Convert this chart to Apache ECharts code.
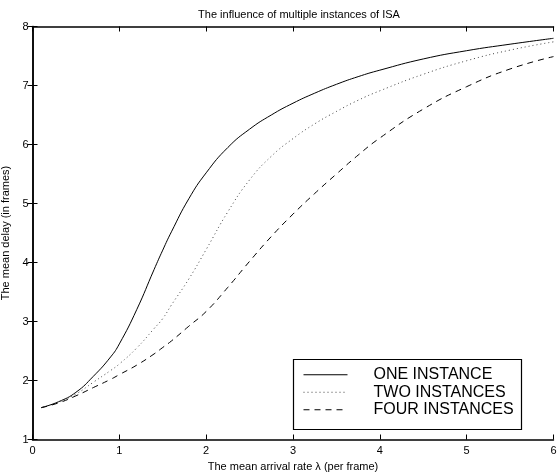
<!DOCTYPE html>
<html>
<head>
<meta charset="utf-8">
<script src="https://cdn.jsdelivr.net/npm/echarts@6/dist/echarts.min.js"></script>
<style>html,body{margin:0;padding:0;background:#fff;}#c{width:558px;height:473px;}</style>
</head>
<body>
<div id="c"></div>
<script>
const titleText = 'The influence of multiple instances of ISA';
const xName = 'The mean arrival rate \u03bb (per frame)';
const yName = 'The mean delay (in frames)';
const seriesNames = ['ONE INSTANCE', 'TWO INSTANCES', 'FOUR INSTANCES'];
const xValues = [0.1, 0.3, 0.5, 0.7, 0.9, 1.0, 1.2, 1.4, 1.5, 1.6, 1.8, 2.0, 2.25, 2.5, 2.75, 3.0, 3.25, 3.5, 3.75, 4.0, 4.5, 5.0, 5.5, 6.0];
const oneInstance  = [1.54, 1.64, 1.80, 2.07, 2.40, 2.62, 3.20, 3.88, 4.21, 4.52, 5.08, 5.52, 5.95, 6.26, 6.50, 6.70, 6.87, 7.02, 7.15, 7.26, 7.45, 7.59, 7.70, 7.80];
const twoInstances = [1.54, 1.63, 1.77, 1.97, 2.17, 2.28, 2.55, 2.88, 3.05, 3.28, 3.72, 4.22, 4.86, 5.40, 5.80, 6.10, 6.35, 6.56, 6.75, 6.91, 7.19, 7.42, 7.60, 7.74];
const fourInstances= [1.54, 1.62, 1.74, 1.88, 2.02, 2.10, 2.26, 2.45, 2.56, 2.67, 2.92, 3.17, 3.58, 4.02, 4.44, 4.82, 5.17, 5.50, 5.82, 6.11, 6.60, 6.98, 7.28, 7.49];

const pair = (ys) => xValues.map((x, i) => [x, ys[i]]);
const font = 'Liberation Sans, Arial, Helvetica, sans-serif';

const chart = echarts.init(document.getElementById('c'), null, {renderer: 'canvas'});
const axisLine = {show: true, lineStyle: {color: '#000', width: 1.5}};
chart.setOption({
  animation: false,
  backgroundColor: '#fff',
  title: {
    text: titleText, left: 294, top: 4, textAlign: 'center',
    textStyle: {fontFamily: font, fontSize: 11, fontWeight: 'normal', color: '#000'}
  },
  grid: {left: 32.5, right: 4.5, top: 26.5, bottom: 33.5, containLabel: false, outerBoundsMode: 'none'},
  legend: {
    orient: 'vertical', left: 303, top: 366, itemWidth: 44, itemHeight: 10, itemGap: 0,
    padding: 0,
    data: seriesNames,
    itemStyle: {opacity: 0},
    lineStyle: {width: 1},
    textStyle: {fontFamily: font, fontSize: 16, color: '#000', lineHeight: 17.5, padding: [0, 0, 0, 21]}
  },
  graphic: [{
    type: 'rect', shape: {x: 293.5, y: 359.5, width: 228, height: 70},
    style: {fill: 'none', stroke: '#000', lineWidth: 1.2}, z: 100
  }],
  xAxis: [{
    type: 'value', min: 0, max: 6, interval: 1,
    name: xName, nameLocation: 'middle', nameGap: 18,
    nameTextStyle: {fontFamily: font, fontSize: 11, color: '#000'},
    axisLine: axisLine,
    axisTick: {show: true, inside: true, length: 5, lineStyle: {color: '#000'}},
    axisLabel: {fontFamily: font, fontSize: 11, color: '#000', margin: 6},
    splitLine: {show: false}
  }, {
    type: 'value', min: 0, max: 6, interval: 1, position: 'top',
    axisLine: axisLine,
    axisTick: {show: true, inside: true, length: 5, lineStyle: {color: '#000'}},
    axisLabel: {show: false}, splitLine: {show: false}
  }],
  yAxis: [{
    type: 'value', min: 1, max: 8, interval: 1,
    name: yName, nameLocation: 'middle', nameGap: 16,
    nameTextStyle: {fontFamily: font, fontSize: 11, color: '#000'},
    axisLine: axisLine,
    axisTick: {show: true, inside: true, length: 5, lineStyle: {color: '#000'}},
    axisLabel: {fontFamily: font, fontSize: 11, color: '#000', margin: 4},
    splitLine: {show: false}
  }, {
    type: 'value', min: 1, max: 8, interval: 1, position: 'right',
    axisLine: axisLine,
    axisTick: {show: true, inside: true, length: 5, lineStyle: {color: '#000'}},
    axisLabel: {show: false}, splitLine: {show: false}
  }],
  series: [
    {name: seriesNames[0], type: 'line', smooth: true, symbol: 'none', data: pair(oneInstance),
     itemStyle: {color: '#000'}, lineStyle: {color: '#000', width: 1, type: 'solid'}},
    {name: seriesNames[1], type: 'line', smooth: true, symbol: 'none', data: pair(twoInstances),
     itemStyle: {color: '#444'}, lineStyle: {color: '#444', width: 1, type: [1, 3]}},
    {name: seriesNames[2], type: 'line', smooth: true, symbol: 'none', data: pair(fourInstances),
     itemStyle: {color: '#000'}, lineStyle: {color: '#000', width: 1, type: [6, 5]}}
  ]
});
</script>
</body>
</html>
